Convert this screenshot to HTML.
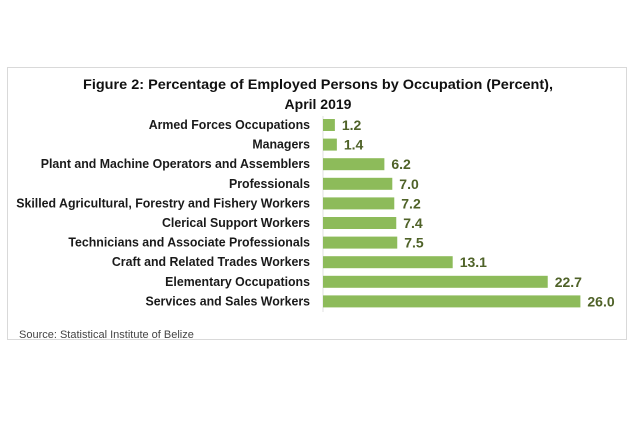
<!DOCTYPE html>
<html><head><meta charset="utf-8"><style>
body{margin:0;background:#fff;width:635px;height:425px;overflow:hidden;font-family:"Liberation Sans",sans-serif}
#frame{position:absolute;left:7px;top:67px;width:620px;height:273px;border:1px solid #d9d9d9;box-sizing:border-box}
</style></head><body>
<div id="frame"></div>
<svg id="chart" width="635" height="425" style="position:absolute;left:0;top:0">
<text x="318" y="89" text-anchor="middle" font-size="14" font-weight="bold" fill="#111" textLength="470" lengthAdjust="spacingAndGlyphs">Figure 2: Percentage of Employed Persons by Occupation (Percent),</text>
<text x="318" y="109" text-anchor="middle" font-size="14" font-weight="bold" fill="#111">April 2019</text>
<line x1="323" y1="116" x2="323" y2="312" stroke="#e0e0e0"/>
<g id="bars"></g>
<text x="19" y="338" font-size="11" fill="#444">Source: Statistical Institute of Belize</text>
</svg>
<script>
const categories=["Armed Forces Occupations","Managers","Plant and Machine Operators and Assemblers","Professionals","Skilled Agricultural, Forestry and Fishery Workers","Clerical Support Workers","Technicians and Associate Professionals","Craft and Related Trades Workers","Elementary Occupations","Services and Sales Workers"];
const values=[1.2,1.4,6.2,7.0,7.2,7.4,7.5,13.1,22.7,26.0];
const valueLabels=["1.2","1.4","6.2","7.0","7.2","7.4","7.5","13.1","22.7","26.0"];
const ns="http://www.w3.org/2000/svg";
const x0=323,pxPerUnit=9.9,y0=125,step=19.6,bh=12;
const xs=v=>x0+v*pxPerUnit;
const ys=i=>y0+i*step;
const g=document.getElementById('bars');
categories.forEach((c,i)=>{
 const cy=ys(i);
 const t=document.createElementNS(ns,'text');
 
 
 t.setAttribute('x',310);t.setAttribute('y',cy+4);t.setAttribute('text-anchor','end');
 t.setAttribute('font-size','13');t.setAttribute('font-weight','bold');t.setAttribute('fill','#1a1a1a');
 t.setAttribute('lengthAdjust','spacingAndGlyphs');
 t.textContent=c;g.appendChild(t);
 const r=document.createElementNS(ns,'rect');
 
 
 r.setAttribute('x',x0);r.setAttribute('y',cy-bh/2);r.setAttribute('width',xs(values[i])-x0);r.setAttribute('height',bh);r.setAttribute('fill','#8dbb5a');
 g.appendChild(r);
 const v=document.createElementNS(ns,'text');
 
 
 v.setAttribute('x',xs(values[i])+7);v.setAttribute('y',cy+5);v.setAttribute('font-size','14');v.setAttribute('font-weight','bold');v.setAttribute('fill','#4f6228');
 v.textContent=valueLabels[i];g.appendChild(v);
 const w=t.getComputedTextLength();
 if(w>0){t.setAttribute('textLength',w*0.95);}
});
</script>
</body></html>
